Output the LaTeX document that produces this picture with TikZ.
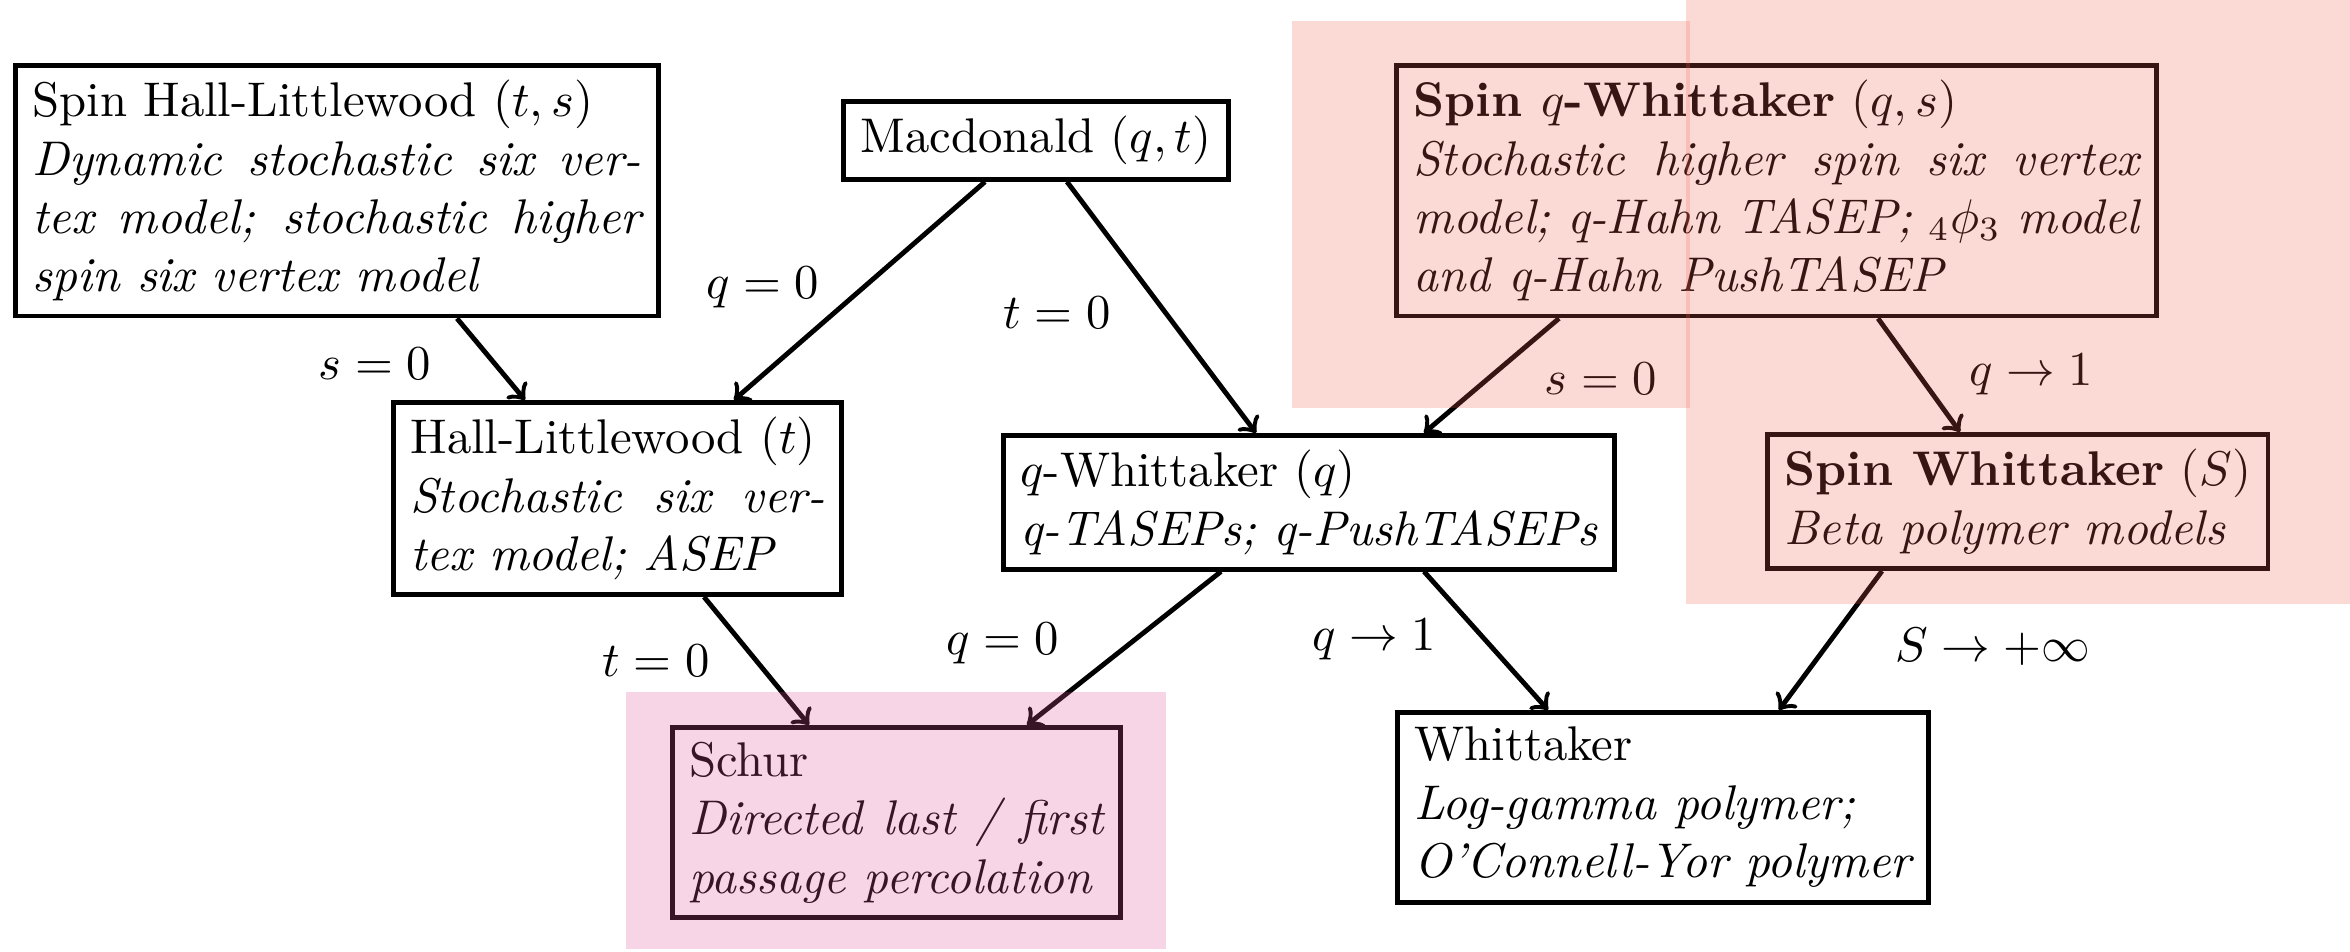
\documentclass[tikz,border=0pt]{standalone}
\usepackage{amsmath}
\usetikzlibrary{calc}
\definecolor{salmonhl}{RGB}{238,95,78}
\definecolor{pinkhl}{RGB}{227,83,159}
\tikzset{
  x=0.2053pt, y=-0.2053pt,
  box/.style={draw, line width=1pt, anchor=north west, inner xsep=3.5pt, inner ysep=3pt},
  jbox/.style={box, align=justify},
  nbox/.style={box, align=left},
  arr/.style={->, line width=1pt},
  lab/.style={inner sep=0pt},
  hl/.style={fill opacity=0.23, draw=none},
}
\begin{document}
\begin{tikzpicture}
\useasboundingbox (0,0) rectangle (2350,952);
% nodes
\node[jbox, text width=125pt] (spinhl) at (13,63)
  {Spin Hall-Littlewood $(t,s)$\\ \itshape Dynamic stochastic six ver-\linebreak tex model; stochastic higher\linebreak spin six vertex model};
\node[nbox] (mac) at (841,99) {Macdonald $(q,t)$};
\node[jbox, text width=149pt] (spinqw) at (1394,63)
  {\textbf{Spin $q$-Whittaker} $(q,s)$\\ \itshape Stochastic higher spin six vertex\linebreak model; q-Hahn TASEP; ${}_4\phi_3$ model\linebreak and q-Hahn PushTASEP};
\node[jbox, text width=85pt] (hl) at (391,400)
  {Hall-Littlewood $(t)$\\ \itshape Stochastic six ver-\linebreak tex model; ASEP};
\node[nbox] (qw) at (1001,433)
  {$q$-Whittaker $(q)$\\ \itshape q-TASEPs; q-PushTASEPs};
\node[nbox] (spinw) at (1765,432)
  {\textbf{Spin Whittaker} $(S)$\\ \itshape Beta polymer models};
\node[jbox, text width=85pt] (schur) at (670,725)
  {Schur\\ \itshape Directed last / first\linebreak passage percolation};
\node[nbox] (whit) at (1395,710)
  {Whittaker\\ \itshape Log-gamma polymer;\\ \itshape O'Connell-Yor polymer};
% connectors
\draw[arr] ($(spinhl.south west)+(444,0)$) -- ($(hl.north west)+(134,0)$);
\draw[arr] ($(mac.south west)+(144,0)$) -- ($(hl.north west)+(343,0)$);
\draw[arr] ($(mac.south west)+(226,0)$) -- ($(qw.north west)+(255,0)$);
\draw[arr] ($(spinqw.south west)+(165,0)$) -- ($(qw.north west)+(423,0)$);
\draw[arr] ($(spinqw.south west)+(484,0)$) -- ($(spinw.north west)+(195,0)$);
\draw[arr] ($(hl.south west)+(313,0)$) -- ($(schur.north west)+(139,0)$);
\draw[arr] ($(qw.south west)+(220,0)$) -- ($(schur.north west)+(357,0)$);
\draw[arr] ($(qw.south west)+(423,0)$) -- ($(whit.north west)+(153,0)$);
\draw[arr] ($(spinw.south west)+(117,0)$) -- ($(whit.north west)+(384,0)$);
% labels
\node[lab] (l1) at (375,364) {$s=0$};
\node[lab] (l2) at (763,288) {$q=0$};
\node[lab] (l3) at (1057,313) {$t=0$};
\node[lab] (l4) at (1601,379) {$s=0$};
\node[lab] (l5) at (2031,375) {$q\to1$};
\node[lab] (l6) at (656,661) {$t=0$};
\node[lab] (l7) at (1003,644) {$q=0$};
\node[lab] (l8) at (1374,640) {$q\to1$};
\node[lab] (l9) at (1993,647) {$S\to+\infty$};
% highlights
\fill[hl, salmonhl] (1292,21) rectangle (1690,408);
\fill[hl, salmonhl] (1686,0) rectangle (2350,604);
\fill[hl, pinkhl, fill opacity=0.25] (626,692) rectangle (1166,949);
\end{tikzpicture}
\end{document}
